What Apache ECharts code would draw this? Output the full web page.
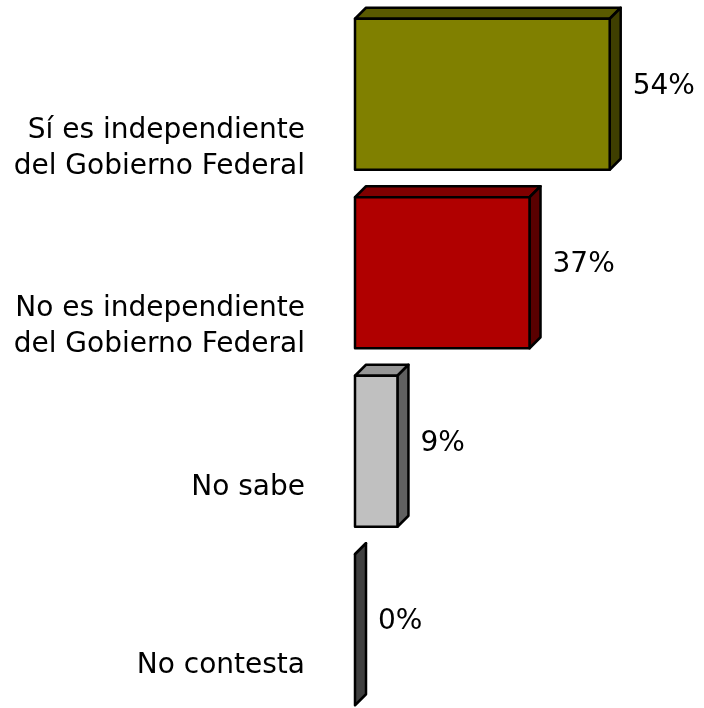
<!DOCTYPE html>
<html lang="es">
<head>
    <meta charset="UTF-8">
    <title>Independencia</title>
    <style>
        html, body { margin: 0; padding: 0; background: #fff; }
        #main { width: 704px; height: 708px; }
    </style>
</head>
<body>
    <div id="main"></div>
    <script src="https://cdn.jsdelivr.net/npm/echarts@6/dist/echarts.min.js"></script>
    <script>
        var categories = [
            'Sí es independiente\ndel Gobierno Federal',
            'No es independiente\ndel Gobierno Federal',
            'No sabe',
            'No contesta'
        ];
        var values = [54, 37, 9, 0];

        // colores: cara frontal, cara superior, cara lateral
        var frontColors = ['#808000', '#b00000', '#c0c0c0', '#333333'];
        var topColors = ['#5a5a00', '#800000', '#969696', '#4d4d4d'];
        var sideColors = ['#3f3f00', '#5a0000', '#606060', '#404040'];

        var depth = 11;
        var fontFamily = '"DejaVu Sans", Verdana, sans-serif';

        var chart = echarts.init(document.getElementById('main'));

        function renderBar3d(params, api) {
            var idx = api.value(0);
            var end = api.coord([api.value(1), idx]);
            var start = api.coord([0, idx]);
            var h = api.size([0, 1])[1] * 0.846;
            var x0 = start[0], x1 = end[0];
            var top = end[1] - h / 2, bottom = end[1] + h / 2;
            var line = { stroke: '#000', lineWidth: 2.5, lineJoin: 'round' };
            var children = [
                {
                    type: 'polygon',
                    shape: { points: [[x0, top], [x0 + depth, top - depth], [x1 + depth, top - depth], [x1, top]] },
                    style: Object.assign({ fill: topColors[idx] }, line)
                },
                {
                    type: 'polygon',
                    shape: { points: [[x1, top], [x1 + depth, top - depth], [x1 + depth, bottom - depth], [x1, bottom]] },
                    style: Object.assign({ fill: sideColors[idx] }, line)
                }
            ];
            if (x1 - x0 > 0.5) {
                children.push({
                    type: 'rect',
                    shape: { x: x0, y: top, width: x1 - x0, height: h },
                    style: Object.assign({ fill: frontColors[idx] }, line)
                });
            }
            // etiqueta del porcentaje
            children.push({
                type: 'text',
                style: {
                    text: api.value(1) + '%',
                    x: x1 + depth + 12,
                    y: end[1] - 8,
                    fill: '#000',
                    font: '28px ' + fontFamily,
                    verticalAlign: 'middle',
                    align: 'left'
                }
            });
            return { type: 'group', children: children };
        }

        var option = {
            backgroundColor: '#fff',
            animation: false,
            grid: { left: 355, top: 5, height: 714, width: 283, outerBoundsMode: 'none' },
            xAxis: {
                type: 'value',
                min: 0,
                max: 60,
                show: false
            },
            yAxis: {
                type: 'category',
                inverse: true,
                data: categories,
                axisLine: { show: false },
                axisTick: { show: false },
                splitLine: { show: false },
                axisLabel: {
                    margin: 50,
                    color: '#000',
                    fontSize: 28,
                    fontFamily: fontFamily,
                    lineHeight: 36,
                    align: 'right',
                    verticalAlign: 'top',
                    padding: [18, 0, 0, 0]
                }
            },
            series: [{
                type: 'custom',
                renderItem: renderBar3d,
                encode: { x: 1, y: 0 },
                data: values.map(function (v, i) { return [i, v]; })
            }]
        };

        chart.setOption(option);
    </script>
</body>
</html>
